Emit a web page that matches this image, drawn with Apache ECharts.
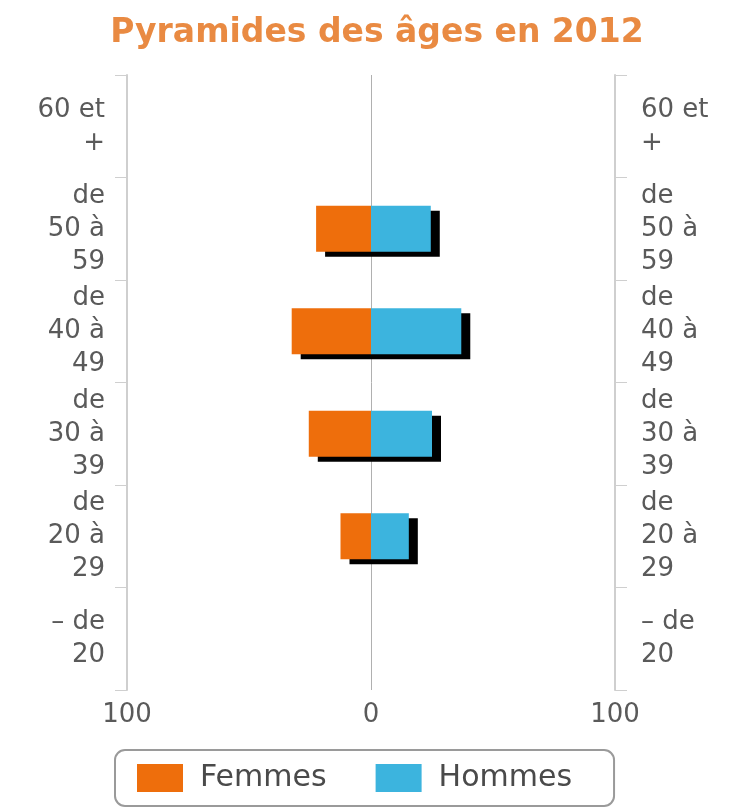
<!DOCTYPE html>
<html>
<head>
<meta charset="utf-8">
<script src="https://cdn.jsdelivr.net/npm/echarts@6/dist/echarts.min.js"></script>
<style>
html,body{margin:0;padding:0;background:#fff;}
#chart{width:731px;height:807px;}
</style>
</head>
<body>
<div id="chart"></div>
<script>
var titleText = 'Pyramides des âges en 2012';
var categories = ['– de 20', 'de 20 à 29', 'de 30 à 39', 'de 40 à 49', 'de 50 à 59', '60 et +'];
var femmes = [0, 12.5, 25.5, 32.5, 22.5, 0];
var hommes = [0, 15.5, 25, 37, 24.5, 0];
var seriesNames = ['Femmes', 'Hommes'];
var xMin = -100, xMax = 100, xInterval = 100;

var FONT = 'DejaVu Sans';
var LABEL_SIZE = 26;
var measureCtx = document.createElement('canvas').getContext('2d');
measureCtx.font = LABEL_SIZE + 'px "' + FONT + '"';
function wrap(text, maxW) {
  var words = text.split(' ');
  var lines = [], cur = '';
  words.forEach(function (w) {
    var test = cur ? cur + ' ' + w : w;
    if (cur && measureCtx.measureText(test).width > maxW) {
      lines.push(cur); cur = w;
    } else {
      cur = test;
    }
  });
  if (cur) lines.push(cur);
  return lines.join('\n');
}

var chart = echarts.init(document.getElementById('chart'));
var labelStyle = {
  fontFamily: FONT, fontSize: LABEL_SIZE, color: '#5a5a5a', lineHeight: 33,
  formatter: function (v) { return wrap(v, 71); }
};
var axisCommon = {
  type: 'category', data: categories,
  axisLine: {show: true, onZero: false, lineStyle: {color: '#cfcfcf', width: 2}},
  axisTick: {show: true, length: 12, lineStyle: {color: '#cfcfcf', width: 1}}
};
chart.setOption({
  animation: false,
  title: {
    text: titleText, left: 372, top: 12, textAlign: 'center',
    textStyle: {fontFamily: FONT, fontSize: 33, fontWeight: 'bold', color: '#E98A42'}
  },
  legend: {
    data: seriesNames, bottom: 1, left: 115,
    icon: 'rect', itemWidth: 46, itemHeight: 28, itemGap: 49,
    padding: [13, 42, 13, 22],
    borderColor: '#9a9a9a', borderWidth: 2, borderRadius: 10,
    textStyle: {fontFamily: FONT, fontSize: 30, color: '#4a4a4a', padding: [0, 0, 0, 12]}
  },
  grid: {left: 127, right: 116, top: 75, bottom: 117, containLabel: false},
  xAxis: {
    type: 'value', min: xMin, max: xMax, interval: xInterval,
    axisLine: {show: false}, axisTick: {show: false},
    splitLine: {show: true, lineStyle: {color: '#b0b0b0', width: 1}},
    axisLabel: {
      fontFamily: FONT, fontSize: 26, color: '#5a5a5a', margin: 12,
      formatter: function (v) { return String(Math.abs(v)); }
    }
  },
  yAxis: [
    Object.assign({position: 'left', axisLabel: Object.assign({margin: 22, align: 'right'}, labelStyle)}, axisCommon),
    Object.assign({position: 'right', axisLabel: Object.assign({margin: 26, align: 'left'}, labelStyle)}, axisCommon)
  ],
  series: [{
    name: seriesNames[0], type: 'bar', stack: 'pop', yAxisIndex: 0,
    barWidth: 46,
    data: femmes.map(function (v) { return v ? -v : null; }),
    itemStyle: {color: '#EE6E0C', shadowColor: '#000', shadowBlur: 0, shadowOffsetX: 9, shadowOffsetY: 5}
  }, {
    name: seriesNames[1], type: 'bar', stack: 'pop', yAxisIndex: 0,
    barWidth: 46,
    data: hommes.map(function (v) { return v ? v : null; }),
    itemStyle: {color: '#3CB4DE', shadowColor: '#000', shadowBlur: 0, shadowOffsetX: 9, shadowOffsetY: 5}
  }]
});
</script>
</body>
</html>
